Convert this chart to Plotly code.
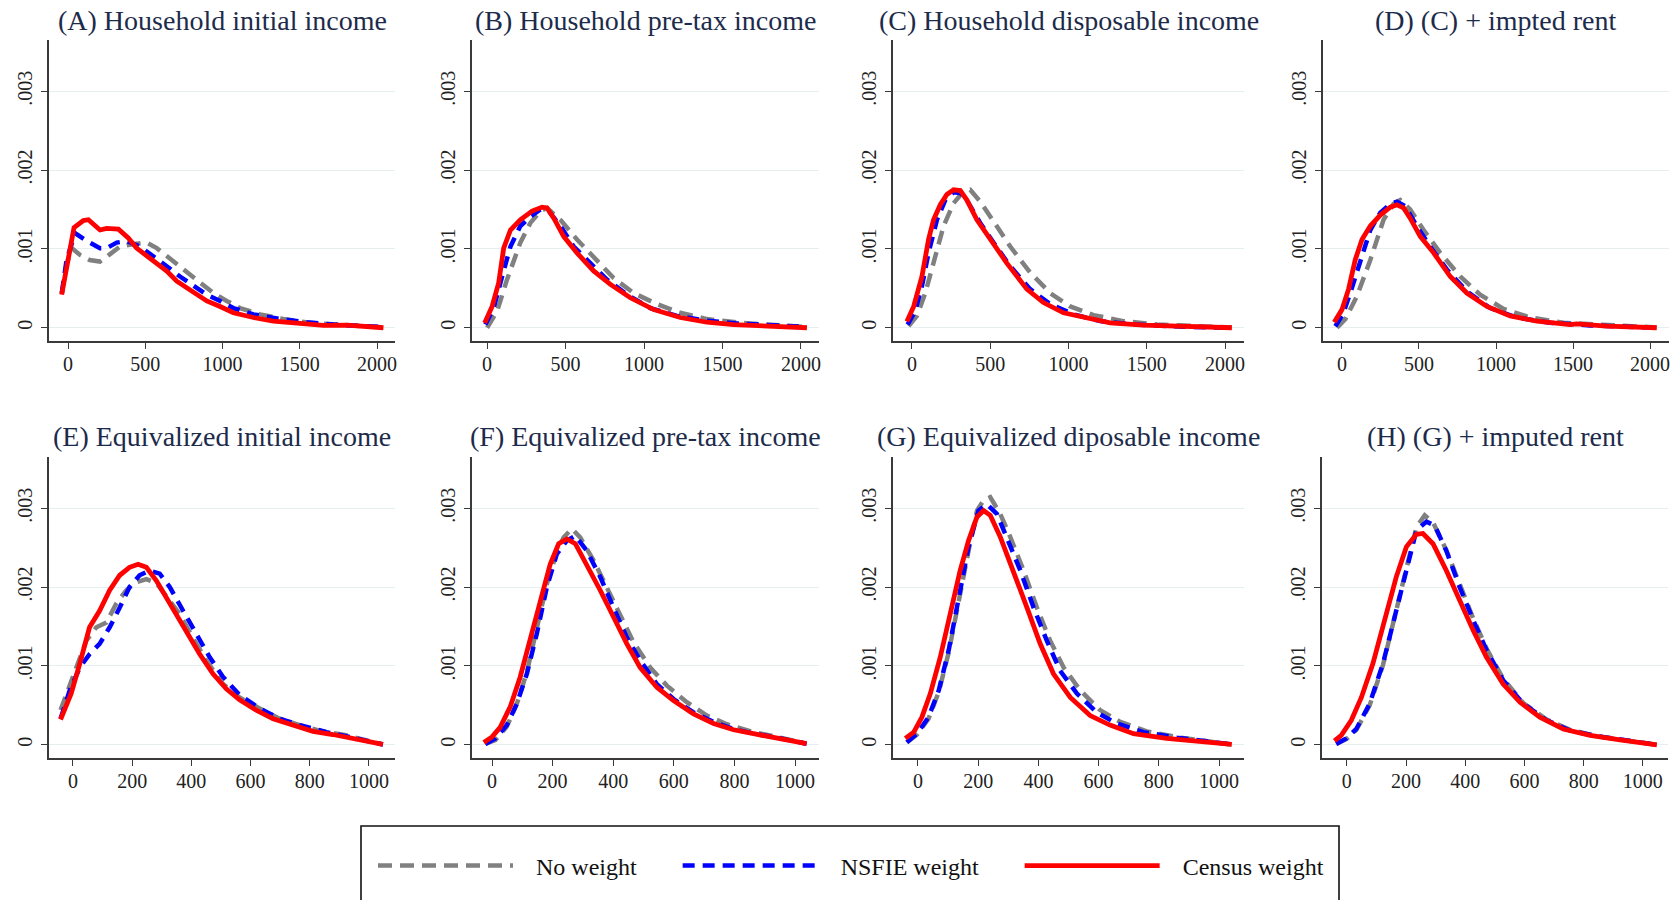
import plotly.graph_objects as go

# ---------------- data (density values) ----------------
series_names = ["No weight", "NSFIE weight", "Census weight"]
panel_titles = [
    "(A) Household initial income", "(B) Household pre-tax income",
    "(C) Household disposable income", "(D) (C) + impted rent",
    "(E) Equivalized initial income", "(F) Equivalized pre-tax income",
    "(G) Equivalized diposable income", "(H) (G) + imputed rent",
]
x_ticks_top = [0, 500, 1000, 1500, 2000]
x_ticks_bottom = [0, 200, 400, 600, 800, 1000]
y_tick_vals = [0, 0.001, 0.002, 0.003]
y_tick_text = ["0", ".001", ".002", ".003"]

# Panel A
a_none_x = [-40, -10, 24, 80, 140, 207, 270, 337, 420, 509, 574, 682, 768, 854, 941, 1027, 1113, 1243, 1394, 1566, 1717, 1933, 2041]
a_none_y = [0.00044, 0.00080, 0.00101, 0.00092, 0.00086, 0.00084, 0.00093, 0.00103, 0.00106, 0.00108, 0.00101, 0.00084, 0.00072, 0.00057, 0.00044, 0.00034, 0.00025, 0.00017, 0.00011, 0.000063, 0.000042, 0.000021, 0.000004]
a_nsfie_x = [-40, -10, 45, 121, 207, 250, 315, 380, 466, 552, 639, 725, 811, 898, 984, 1070, 1200, 1372, 1545, 1717, 1933, 2041]
a_nsfie_y = [0.00044, 0.00085, 0.00120, 0.00110, 0.00101, 0.00101, 0.00108, 0.00110, 0.00103, 0.00091, 0.00078, 0.00065, 0.00053, 0.00042, 0.00034, 0.00025, 0.00017, 0.00011, 0.00007, 0.00004, 0.00002, 0.000008]
a_census_x = [-41, 39, 99, 132, 207, 250, 326, 390, 444, 509, 574, 639, 704, 768, 833, 898, 984, 1070, 1200, 1329, 1502, 1653, 1804, 1933, 2041]
a_census_y = [0.00042, 0.00127, 0.00136, 0.00137, 0.00124, 0.00126, 0.00125, 0.00114, 0.00101, 0.00091, 0.00082, 0.00072, 0.00059, 0.00051, 0.00042, 0.00034, 0.00027, 0.00019, 0.00013, 0.000084, 0.000055, 0.00003, 0.000034, 0.000013, 0.0]

# Panel B
b_none_x = [0, 64, 127, 212, 276, 340, 382, 467, 573, 679, 807, 934, 1083, 1231, 1401, 1614, 1826, 2038]
b_none_y = [0.0, 0.00021, 0.00061, 0.00108, 0.00133, 0.00148, 0.00152, 0.00137, 0.00112, 0.00089, 0.00063, 0.00044, 0.00030, 0.00019, 0.00011, 0.000063, 0.00004, 0.00001]
b_nsfie_x = [-11, 42, 96, 149, 212, 276, 340, 393, 467, 552, 658, 764, 892, 1040, 1210, 1401, 1592, 1805, 2038]
b_nsfie_y = [0.00004, 0.00025, 0.00065, 0.00103, 0.00129, 0.00141, 0.00150, 0.00148, 0.00129, 0.00103, 0.00082, 0.00061, 0.00042, 0.00025, 0.00015, 0.00009, 0.000055, 0.00004, 0.00001]
b_census_x = [-15, 32, 74, 106, 149, 212, 287, 350, 382, 425, 488, 573, 679, 786, 913, 1062, 1231, 1401, 1571, 1741, 1868, 2038]
b_census_y = [0.00006, 0.00027, 0.00057, 0.00101, 0.00124, 0.00137, 0.00148, 0.00153, 0.00152, 0.00139, 0.00116, 0.00095, 0.00072, 0.00055, 0.00038, 0.00023, 0.00013, 0.00007, 0.00004, 0.00003, 0.000025, 0.0]

# Panel C
c_none_x = [-21, 32, 85, 138, 202, 266, 330, 372, 436, 521, 628, 755, 883, 1011, 1160, 1351, 1564, 1819, 2043]
c_none_y = [0.00002, 0.00015, 0.00044, 0.00082, 0.00129, 0.00158, 0.00173, 0.00175, 0.00160, 0.00135, 0.00103, 0.00070, 0.00044, 0.00027, 0.00016, 0.000084, 0.000042, 0.000021, 0.000004]
c_nsfie_x = [-28, 21, 64, 106, 160, 213, 266, 309, 362, 436, 521, 628, 755, 883, 1032, 1202, 1415, 1734, 2043]
c_nsfie_y = [0.00004, 0.00021, 0.00053, 0.00095, 0.00137, 0.00162, 0.00172, 0.00171, 0.00158, 0.00133, 0.00108, 0.00078, 0.00049, 0.00030, 0.00017, 0.000084, 0.000042, 0.000013, 0.0]
c_census_x = [-32, 11, 64, 106, 138, 181, 223, 266, 309, 351, 415, 500, 606, 734, 840, 968, 1096, 1266, 1479, 1734, 2043]
c_census_y = [0.00008, 0.00027, 0.00065, 0.00112, 0.00137, 0.00156, 0.00169, 0.00175, 0.00174, 0.00162, 0.00137, 0.00112, 0.00082, 0.00049, 0.00032, 0.00019, 0.00013, 0.000063, 0.000034, 0.000013, 0.0]

# Panel D
d_none_x = [-32, 22, 97, 184, 270, 335, 378, 443, 530, 638, 768, 897, 1049, 1222, 1438, 1719, 2043]
d_none_y = [0.0, 0.00011, 0.00040, 0.00086, 0.00137, 0.00157, 0.00162, 0.00150, 0.00124, 0.00095, 0.00065, 0.00042, 0.00024, 0.00013, 0.000063, 0.00003, 0.000004]
d_nsfie_x = [-43, 6, 54, 119, 184, 249, 314, 357, 411, 486, 573, 681, 811, 962, 1135, 1351, 1611, 2043]
d_nsfie_y = [0.00002, 0.00017, 0.00044, 0.00086, 0.00124, 0.00146, 0.00157, 0.00160, 0.00154, 0.00129, 0.00103, 0.00074, 0.00046, 0.00025, 0.00013, 0.000063, 0.00003, 0.0]
d_census_x = [-50, 0, 43, 86, 130, 184, 249, 314, 357, 400, 443, 508, 595, 703, 811, 941, 1092, 1265, 1481, 1524, 1719, 2043]
d_census_y = [0.00007, 0.00023, 0.00049, 0.00086, 0.00112, 0.00129, 0.00143, 0.00153, 0.00156, 0.00152, 0.00139, 0.00116, 0.00095, 0.00065, 0.00044, 0.00027, 0.00015, 0.000084, 0.00004, 0.00005, 0.00002, 0.0]

# Panel E
e_none_x = [-42, 0, 45, 79, 113, 146, 180, 214, 248, 282, 315, 360, 405, 450, 507, 563, 631, 698, 766, 833, 923, 1047]
e_none_y = [0.00044, 0.00086, 0.00132, 0.00149, 0.00155, 0.00179, 0.00196, 0.00206, 0.00210, 0.00205, 0.00189, 0.00166, 0.00136, 0.00107, 0.00077, 0.00060, 0.00046, 0.00033, 0.00025, 0.00018, 0.00012, 0.000004]
e_nsfie_x = [-42, -11, 23, 56, 90, 124, 158, 191, 225, 259, 293, 327, 372, 417, 462, 507, 563, 631, 698, 766, 856, 946, 1047]
e_nsfie_y = [0.00033, 0.00069, 0.00098, 0.00115, 0.00128, 0.00149, 0.00174, 0.00200, 0.00215, 0.00221, 0.00217, 0.00200, 0.00170, 0.00141, 0.00111, 0.00086, 0.00063, 0.00046, 0.00033, 0.00025, 0.00016, 0.00009, 0.000004]
e_census_x = [-42, -6, 23, 56, 90, 124, 158, 191, 220, 248, 282, 315, 349, 383, 428, 473, 518, 563, 619, 676, 743, 811, 878, 946, 1047]
e_census_y = [0.00032, 0.00065, 0.00103, 0.00149, 0.00170, 0.00196, 0.00215, 0.00225, 0.00229, 0.00225, 0.00208, 0.00187, 0.00166, 0.00145, 0.00115, 0.00090, 0.00071, 0.00057, 0.00044, 0.00033, 0.00025, 0.00017, 0.00013, 0.000076, 0.000004]

# Panel F
f_none_x = [-22, 11, 49, 82, 115, 148, 181, 214, 236, 264, 291, 335, 379, 423, 467, 522, 577, 643, 709, 775, 863, 940, 1038]
f_none_y = [0.00001, 0.00006, 0.00023, 0.00052, 0.00092, 0.00145, 0.00204, 0.00244, 0.00263, 0.00274, 0.00263, 0.00234, 0.00200, 0.00164, 0.00130, 0.00098, 0.00075, 0.00054, 0.00037, 0.00026, 0.00016, 0.00010, 0.000013]
f_nsfie_x = [-22, 11, 49, 82, 115, 148, 181, 214, 247, 275, 313, 357, 401, 445, 489, 544, 599, 665, 731, 797, 863, 929, 1038]
f_nsfie_y = [0.00001, 0.00008, 0.00025, 0.00052, 0.00090, 0.00141, 0.00200, 0.00242, 0.00259, 0.00265, 0.00246, 0.00213, 0.00174, 0.00136, 0.00107, 0.00077, 0.00058, 0.00041, 0.00029, 0.00020, 0.00014, 0.00010, 0.000013]
f_census_x = [-27, 0, 27, 60, 93, 126, 159, 192, 220, 247, 275, 313, 357, 401, 445, 489, 544, 599, 665, 731, 797, 863, 929, 1038]
f_census_y = [0.00003, 0.00010, 0.00022, 0.00048, 0.00086, 0.00132, 0.00183, 0.00229, 0.00255, 0.00261, 0.00255, 0.00229, 0.00196, 0.00162, 0.00128, 0.00098, 0.00073, 0.00056, 0.00039, 0.00027, 0.00019, 0.00014, 0.00009, 0.000013]

# Panel G
g_none_x = [-37, -3, 35, 69, 102, 135, 168, 196, 218, 240, 273, 306, 351, 395, 439, 484, 539, 605, 672, 760, 871, 1042]
g_none_y = [0.00003, 0.00013, 0.00033, 0.00067, 0.00117, 0.00183, 0.00246, 0.00297, 0.00310, 0.00314, 0.00293, 0.00264, 0.00221, 0.00174, 0.00132, 0.00098, 0.00069, 0.00044, 0.00029, 0.00017, 0.00009, 0.000004]
g_nsfie_x = [-37, -3, 35, 69, 102, 135, 168, 201, 229, 262, 295, 340, 384, 428, 472, 528, 594, 660, 749, 860, 1042]
g_nsfie_y = [0.00003, 0.00014, 0.00035, 0.00069, 0.00120, 0.00187, 0.00251, 0.00297, 0.00305, 0.00293, 0.00264, 0.00221, 0.00174, 0.00132, 0.00094, 0.00065, 0.00041, 0.00027, 0.00016, 0.00009, 0.000004]
g_census_x = [-42, -14, 13, 41, 74, 107, 140, 168, 196, 218, 240, 273, 317, 362, 406, 450, 506, 572, 638, 716, 826, 937, 1042]
g_census_y = [0.00008, 0.00016, 0.00035, 0.00065, 0.00111, 0.00166, 0.00221, 0.00259, 0.00289, 0.00297, 0.00291, 0.00264, 0.00221, 0.00174, 0.00128, 0.00090, 0.00060, 0.00037, 0.00025, 0.00014, 0.00008, 0.000034, 0.000004]

# Panel H
h_none_x = [-36, -2, 32, 77, 122, 167, 201, 235, 263, 291, 336, 381, 427, 472, 528, 596, 675, 754, 844, 946, 1047]
h_none_y = [0.00001, 0.00007, 0.00019, 0.00050, 0.00101, 0.00170, 0.00226, 0.00276, 0.00291, 0.00282, 0.00247, 0.00202, 0.00160, 0.00122, 0.00084, 0.00053, 0.00032, 0.00019, 0.00011, 0.000055, 0.0]
h_nsfie_x = [-36, -2, 32, 77, 122, 167, 201, 235, 269, 297, 336, 381, 427, 472, 528, 596, 675, 754, 844, 946, 1047]
h_nsfie_y = [0.00001, 0.00008, 0.00020, 0.00052, 0.00103, 0.00171, 0.00225, 0.00272, 0.00283, 0.00278, 0.00246, 0.00200, 0.00158, 0.00120, 0.00082, 0.00052, 0.00031, 0.00018, 0.00011, 0.000055, 0.0]
h_census_x = [-42, -19, 15, 49, 88, 128, 167, 201, 235, 257, 291, 336, 381, 427, 472, 528, 585, 652, 731, 822, 923, 1047]
h_census_y = [0.00005, 0.00012, 0.00031, 0.00060, 0.00103, 0.00158, 0.00213, 0.00251, 0.00267, 0.00268, 0.00255, 0.00221, 0.00183, 0.00145, 0.00111, 0.00077, 0.00054, 0.00035, 0.00020, 0.00012, 0.000063, 0.0]

# ---------------- layout helpers ----------------
W, H = 1677, 900
FONT = "Liberation Serif, Times New Roman, serif"
TITLE_COLOR = "#1d2b4b"
AXIS_COLOR = "#3a3a3a"
GRID_COLOR = "#e6eff0"

# plot-area pixel boxes (left, right) per column, (top, bottom) per row
col_px_top = [(49, 395), (472, 819), (893, 1244), (1323, 1669)]
col_px_bot = [(49, 395), (472, 819), (893, 1244), (1322, 1668)]
row_px = [(40, 341), (457, 758)]
x_ranges = [(-123, 2116), (-96, 2115), (-121, 2121), (-123, 2123),
            (-81, 1088), (-66, 1079), (-83, 1083), (-84, 1085)]
y_range = (-0.000168, 0.00365)

panels = [
    (a_none_x, a_none_y, a_nsfie_x, a_nsfie_y, a_census_x, a_census_y),
    (b_none_x, b_none_y, b_nsfie_x, b_nsfie_y, b_census_x, b_census_y),
    (c_none_x, c_none_y, c_nsfie_x, c_nsfie_y, c_census_x, c_census_y),
    (d_none_x, d_none_y, d_nsfie_x, d_nsfie_y, d_census_x, d_census_y),
    (e_none_x, e_none_y, e_nsfie_x, e_nsfie_y, e_census_x, e_census_y),
    (f_none_x, f_none_y, f_nsfie_x, f_nsfie_y, f_census_x, f_census_y),
    (g_none_x, g_none_y, g_nsfie_x, g_nsfie_y, g_census_x, g_census_y),
    (h_none_x, h_none_y, h_nsfie_x, h_nsfie_y, h_census_x, h_census_y),
]

styles = [
    dict(color="#808080", width=4.5, dash="14px,8px"),
    dict(color="#0000ff", width=4.5, dash="12px,8px"),
    dict(color="#ff0000", width=4.8, dash="solid"),
]
NBSP = "\u00a0"

fig = go.Figure()
layout = {}
annotations = []

for i, data in enumerate(panels):
    r, c = divmod(i, 4)
    left, right = (col_px_top if r == 0 else col_px_bot)[c]
    top, bottom = row_px[r]
    xd = [left / W, right / W]
    yd = [1 - bottom / H, 1 - top / H]
    suffix = "" if i == 0 else str(i + 1)
    xa, ya = "x" + suffix, "y" + suffix

    for s in range(3):
        fig.add_trace(go.Scatter(
            x=data[2 * s], y=data[2 * s + 1], mode="lines",
            name=NBSP * 3 + series_names[s] + NBSP * 6, line=styles[s],
            xaxis=xa, yaxis=ya, showlegend=(i == 0),
            legendrank=s, hoverinfo="skip",
        ))

    layout["xaxis" + suffix] = dict(
        domain=xd, anchor=ya, range=list(x_ranges[i]),
        tickmode="array", tickvals=(x_ticks_top if r == 0 else x_ticks_bottom),
        ticks="outside", ticklen=6, tickwidth=1.3, tickcolor=AXIS_COLOR,
        showline=True, linecolor=AXIS_COLOR, linewidth=1.5,
        showgrid=False, zeroline=False,
        tickfont=dict(family=FONT, size=20, color="#222222"),
        ticklabelstandoff=-2, fixedrange=True,
    )
    layout["yaxis" + suffix] = dict(
        domain=yd, anchor=xa, range=list(y_range),
        tickmode="array", tickvals=y_tick_vals, ticktext=y_tick_text,
        tickangle=-90,
        ticks="outside", ticklen=6, tickwidth=1.3, tickcolor=AXIS_COLOR,
        showline=True, linecolor=AXIS_COLOR, linewidth=1.5,
        showgrid=True, gridcolor=GRID_COLOR, gridwidth=1.2, zeroline=False,
        tickfont=dict(family=FONT, size=20, color="#222222"),
        ticklabelstandoff=1, fixedrange=True,
    )
    annotations.append(dict(
        text=panel_titles[i], xref="paper", yref="paper",
        x=(xd[0] + xd[1]) / 2, y=1 - (21 if r == 0 else 437) / H,
        xanchor="center", yanchor="middle", showarrow=False,
        font=dict(family=FONT, size=28, color=TITLE_COLOR),
    ))

# frame around the legend (extends past the bottom edge, as in the reference)
legend_frame = dict(
    type="rect", xref="paper", yref="paper",
    x0=361 / W, x1=1339 / W, y0=-10 / H, y1=1 - 826 / H,
    line=dict(color="#111111", width=1.6), fillcolor="white", layer="below",
)

fig.update_layout(
    width=W, height=H,
    margin=dict(l=0, r=0, t=0, b=0, autoexpand=False),
    paper_bgcolor="white", plot_bgcolor="white",
    annotations=annotations,
    shapes=[legend_frame],
    showlegend=True,
    legend=dict(
        orientation="h", x=373 / W, xanchor="left",
        y=1 - 866 / H, yanchor="middle",
        borderwidth=0, bgcolor="rgba(0,0,0,0)",
        font=dict(family=FONT, size=24, color="#111111"),
        itemwidth=135, traceorder="normal",
    ),
    **layout,
)

fig.write_html(
    "out.html",
    config={"displayModeBar": False},
    post_script="document.body.style.margin='0px';document.body.style.overflow='hidden';",
)
